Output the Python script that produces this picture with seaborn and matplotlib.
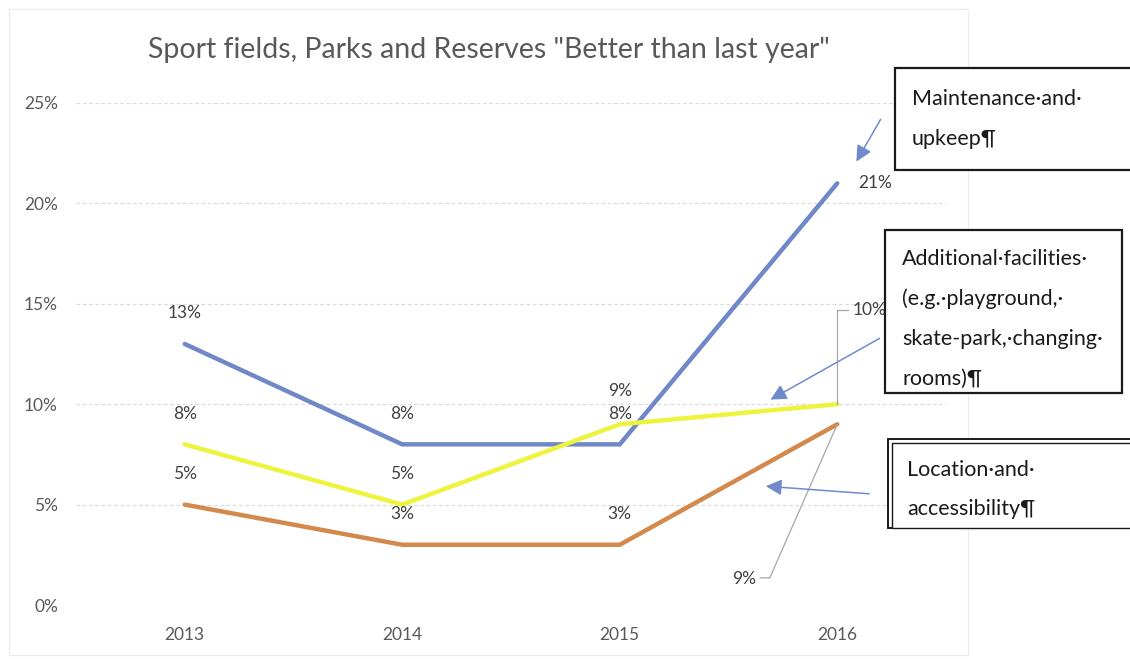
import matplotlib
matplotlib.use("Agg")
import matplotlib.pyplot as plt
import seaborn as sns
import pandas as pd
from matplotlib.patches import Rectangle, FancyArrowPatch

# ---- data -------------------------------------------------------------
years = ["2013", "2014", "2015", "2016"]
maintenance = [13, 8, 8, 21]
facilities = [8, 5, 9, 10]
location = [5, 3, 3, 9]
series_names = ["Maintenance and upkeep",
                "Additional facilities",
                "Location and accessibility"]
series_colors = ["#7088c8", "#eef43e", "#d3894b"]
y_ticks = [0, 5, 10, 15, 20, 25]
title = 'Sport fields, Parks and Reserves "Better than last year"'
box_maintenance = ["Maintenance\u00b7and\u00b7", "upkeep\u00b6"]
box_facilities = ["Additional\u00b7facilities\u00b7", "(e.g.\u00b7playground,\u00b7",
                  "skate-park,\u00b7changing\u00b7", "rooms)\u00b6"]
box_location = ["Location\u00b7and\u00b7", "accessibility\u00b6"]

# ---- figure setup -----------------------------------------------------
W, H = 1130, 659
sns.set_theme(style="white")
plt.rcParams["font.family"] = ["Lato", "DejaVu Sans"]

fig = plt.figure(figsize=(W / 100, H / 100), dpi=100)
fig.patch.set_facecolor("white")


def fx(x):
    return x / W


def fy(y):
    return 1 - y / H


ax = fig.add_axes([fx(76), fy(605), (946 - 76) / W, (605 - 103) / H])

# faint chart-area frame
fig.add_artist(Rectangle((fx(9), fy(655)), fx(968) - fx(9), fy(9) - fy(655),
                         transform=fig.transFigure, fill=False,
                         edgecolor="#ededed", linewidth=1, zorder=0))

rows = []
for name, vals in zip(series_names, [maintenance, facilities, location]):
    for i, v in enumerate(vals):
        rows.append({"pos": i, "value": v, "series": name})
df = pd.DataFrame(rows)

sns.lineplot(data=df, x="pos", y="value", hue="series", hue_order=series_names,
             palette=series_colors, linewidth=3.2, legend=False, ax=ax,
             sort=False, estimator=None)
for ln in ax.lines:
    ln.set_solid_joinstyle("miter")
    ln.set_clip_on(False)

ax.set_xlim(-0.5, 3.5)
ax.set_ylim(0, 25)
ax.set_xticks(range(len(years)))
ax.set_xticklabels(years)
ax.set_yticks(y_ticks)
ax.set_yticklabels([f"{t}%" for t in y_ticks])
ax.set_xlabel("")
ax.set_ylabel("")
ax.yaxis.grid(True, color="#dcdcdc", linestyle=(0, (3, 2)), linewidth=0.9)
ax.xaxis.grid(False)
for s in ax.spines.values():
    s.set_visible(False)
ax.tick_params(axis="both", length=0, labelsize=12.5, labelcolor="#595959")
ax.tick_params(axis="y", pad=13)
ax.tick_params(axis="x", pad=16)

fig.text(fx(489), fy(50), title, ha="center", va="center",
         fontsize=20.5, color="#595959")

# ---- data labels ------------------------------------------------------
lbl = dict(ha="center", va="center", fontsize=12.5, color="#404040")
for series, vals in [("m", maintenance), ("f", facilities), ("l", location)]:
    for i, v in enumerate(vals):
        if i == 3:
            continue
        dy = 24 if (series == "f" and i == 2) else 22
        ax.annotate(f"{v}%", (i, v), xytext=(0, dy), textcoords="offset points", **lbl)

# 2016 labels
ax.annotate(f"{maintenance[3]}%", (3, maintenance[3]), xytext=(27, 0),
            textcoords="offset points", **lbl)
# leader line to the facilities label
ax.plot([3, 3, 3.05], [facilities[3], 14.7, 14.7], color="#a6a6a6", lw=0.9, clip_on=False)
ax.annotate(f"{facilities[3]}%", (3.07, 14.7), ha="left", va="center",
            fontsize=12.5, color="#404040", annotation_clip=False)
# leader line to the location label
ax.plot([3, 2.69, 2.645], [location[3], 1.35, 1.35], color="#a6a6a6", lw=0.9, clip_on=False)
ax.annotate(f"{location[3]}%", (2.625, 1.3), ha="right", va="center",
            fontsize=12.5, color="#404040", annotation_clip=False)

# ---- callout boxes ------------------------------------------------------
def box(x0, y0, x1, y1, lw=1.6, z=5):
    fig.add_artist(Rectangle((fx(x0), fy(y1)), fx(x1) - fx(x0), fy(y0) - fy(y1),
                             transform=fig.transFigure, facecolor="white",
                             edgecolor="#1a1a1a", linewidth=lw, zorder=z))


def lines_of_text(x, ys, texts):
    for y, t in zip(ys, texts):
        fig.text(fx(x), fy(y), t, ha="left", va="center", fontsize=15.5,
                 color="#1a1a1a", zorder=10)


box(895, 68, 1135, 170)
lines_of_text(912, [99, 139], box_maintenance)

box(885, 230, 1122, 393)
lines_of_text(902, [259, 299, 339, 379], box_facilities)

box(888, 439, 1135, 528, lw=1.4)
box(892, 443, 1135, 528, lw=1.0, z=6)
lines_of_text(907, [470, 509], box_location)

# ---- arrows -----------------------------------------------------------
arrow_color = "#6f8bcb"
for (x0, y0), (x1, y1) in [((882, 117), (855, 164)),
                           ((882, 337), (768, 401)),
                           ((872, 494), (763, 486))]:
    fig.add_artist(FancyArrowPatch(
        (fx(x0), fy(y0)), (fx(x1), fy(y1)), transform=fig.transFigure,
        arrowstyle="-|>,head_length=6,head_width=3", color=arrow_color,
        linewidth=1.1, mutation_scale=1.6, zorder=8))

fig.savefig("out.png", dpi=100)
